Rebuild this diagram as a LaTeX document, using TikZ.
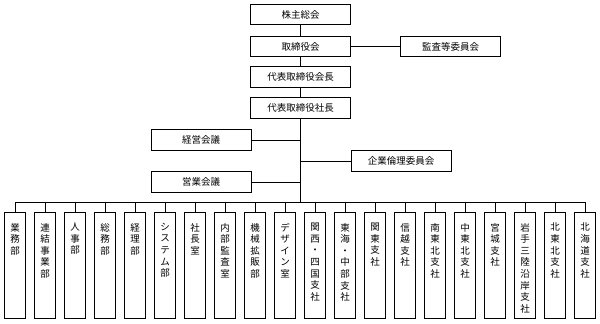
\documentclass[tikz,border=0pt]{standalone}
\usepackage{fontspec}
\newfontfamily\jp{Noto Sans CJK JP}
\begin{document}
\begin{tikzpicture}[x=1pt,y=-1pt,
  topbox/.style={draw, line width=0.9pt, minimum width=100pt, minimum height=20.5pt, inner sep=0pt, font=\jp\fontsize{9.5}{11}\selectfont},
  dept/.style={draw, line width=0.9pt, minimum width=20.5pt, minimum height=106pt, inner sep=0pt},
  vtext/.style={anchor=north, align=center, inner sep=0pt, yshift=-11pt, font=\jp\fontsize{9.5}{11.6}\selectfont},
  conn/.style={line width=0.8pt}]
\useasboundingbox (0,0) rectangle (600,324);
\node[topbox] (kabu) at (300.5,14.5) {株主総会};
\node[topbox] (tori) at (300.5,46.5) {取締役会};
\node[topbox] (kaicho) at (300.5,77) {代表取締役会長};
\node[topbox] (shacho) at (300.5,108) {代表取締役社長};
\node[topbox] (kansa) at (450.5,46.5) {監査等委員会};
\node[topbox] (keiei) at (201,140) {経営会議};
\node[topbox] (eigyo) at (201,182) {営業会議};
\node[topbox] (rinri) at (401,161) {企業倫理委員会};
\coordinate (bus) at (300.5,202.3);
\draw[conn] (kabu) -- (tori);
\draw[conn] (tori) -- (kaicho);
\draw[conn] (kaicho) -- (shacho);
\draw[conn] (tori) -- (kansa);
\draw[conn] (shacho.south) -- (bus);
\draw[conn] (keiei.east) -- (keiei.east -| bus);
\draw[conn] (eigyo.east) -- (eigyo.east -| bus);
\draw[conn] (rinri.west) -- (rinri.west -| bus);
\foreach \i/\t in {0/{業\\務\\部},1/{連\\結\\事\\業\\部},2/{人\\事\\部},3/{総\\務\\部},4/{経\\理\\部},5/{シ\\ス\\テ\\ム\\部},6/{社\\長\\室},7/{内\\部\\監\\査\\室},8/{機\\械\\拡\\販\\部},9/{デ\\ザ\\イ\\ン\\室},10/{関\\西\\・\\四\\国\\支\\社},11/{東\\海\\・\\中\\部\\支\\社},12/{関\\東\\支\\社},13/{信\\越\\支\\社},14/{南\\東\\北\\支\\社},15/{中\\東\\北\\支\\社},16/{宮\\城\\支\\社},17/{岩\\手\\三\\陸\\沿\\岸\\支\\社},18/{北\\東\\北\\支\\社},19/{北\\海\\道\\支\\社}}{
  \node[dept] (d\i) at (15+30*\i,265.3) {};
  \node[vtext] (t\i) at (d\i.north) {\t};
  \draw[conn] (d\i.north) -- (d\i.north |- bus);
}
\draw[conn] (d0.north |- bus) -- (d19.north |- bus);
\end{tikzpicture}
\end{document}
